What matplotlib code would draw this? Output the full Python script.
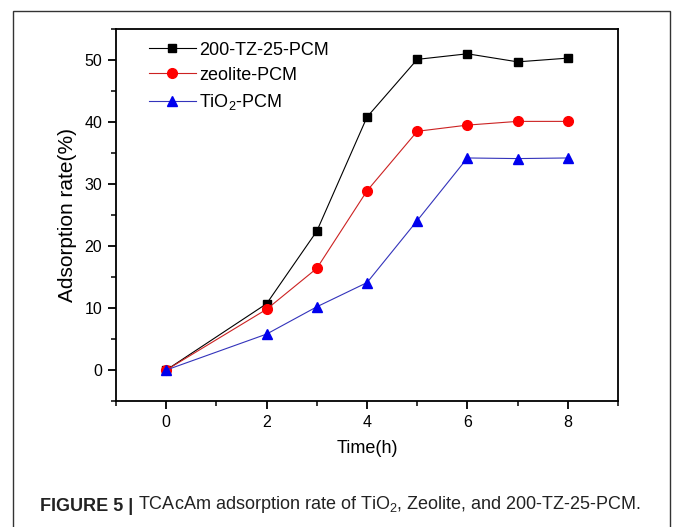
import matplotlib
matplotlib.use("Agg")
import matplotlib.pyplot as plt
from matplotlib.patches import Rectangle
from matplotlib.ticker import MultipleLocator

plt.rcParams['font.family'] = ['Liberation Sans', 'DejaVu Sans']
plt.rcParams['mathtext.default'] = 'regular'

# data
time_h = [0, 2, 3, 4, 5, 6, 7, 8]
tz_pcm = [0, 10.7, 22.4, 40.8, 50.1, 51.0, 49.7, 50.3]
zeolite_pcm = [0, 9.8, 16.4, 28.9, 38.5, 39.5, 40.1, 40.1]
tio2_pcm = [0, 5.8, 10.2, 14.1, 24.1, 34.2, 34.1, 34.2]

labels = ["200-TZ-25-PCM", "zeolite-PCM", "TiO$_2$-PCM"]
x_ticks = [0, 2, 4, 6, 8]
y_ticks = [0, 10, 20, 30, 40, 50]

fig = plt.figure(figsize=(6.73, 5.27), dpi=100)
ax = fig.add_axes([0.1724, 0.239, 0.7459, 0.706])

ax.plot(time_h, tz_pcm, color='black', lw=0.8, marker='s', ms=6,
        mfc='black', mec='black', label=labels[0])
ax.plot(time_h, zeolite_pcm, color='#cc2222', lw=0.8, marker='o', ms=7,
        mfc='red', mec='red', label=labels[1])
ax.plot(time_h, tio2_pcm, color='#3333bb', lw=0.8, marker='^', ms=7.5,
        mfc='#0000ee', mec='#0000ee', label=labels[2])

ax.set_xlim(-1, 9)
ax.set_ylim(-5, 55)
ax.set_xticks(x_ticks)
ax.set_yticks(y_ticks)
ax.xaxis.set_minor_locator(MultipleLocator(1))
ax.yaxis.set_minor_locator(MultipleLocator(5))
ax.tick_params(which='major', direction='out', length=6, width=1.3,
               labelsize=11.5, pad=4)
ax.tick_params(which='minor', direction='out', length=3.5, width=1.1)
for s in ax.spines.values():
    s.set_linewidth(1.3)

ax.set_xlabel("Time(h)", fontsize=13, labelpad=7)
ax.set_ylabel("Adsorption rate(%)", fontsize=15, labelpad=5)

ax.legend(loc='upper left', frameon=False, fontsize=13, handlelength=2.6,
          handletextpad=0.2, labelspacing=0.45, borderaxespad=0.3,
          bbox_to_anchor=(0.04, 1.0))

# outer border
fig.patches.append(Rectangle((13 / 673, -0.05), 657 / 673, 1.05 - 11 / 527,
                             transform=fig.transFigure, fill=False,
                             edgecolor='#333333', lw=1.0))

# caption
t1 = fig.text(40 / 673, 0.03, "FIGURE 5 |", fontsize=13, fontweight='bold',
              color='#222222', va='baseline')
plt.annotate(" TCAcAm adsorption rate of TiO$_2$, Zeolite, and 200-TZ-25-PCM.",
             xy=(1, 0), xycoords=t1, va='bottom', fontsize=13, color='#222222',
             annotation_clip=False)

fig.savefig("out.png", dpi=100)
